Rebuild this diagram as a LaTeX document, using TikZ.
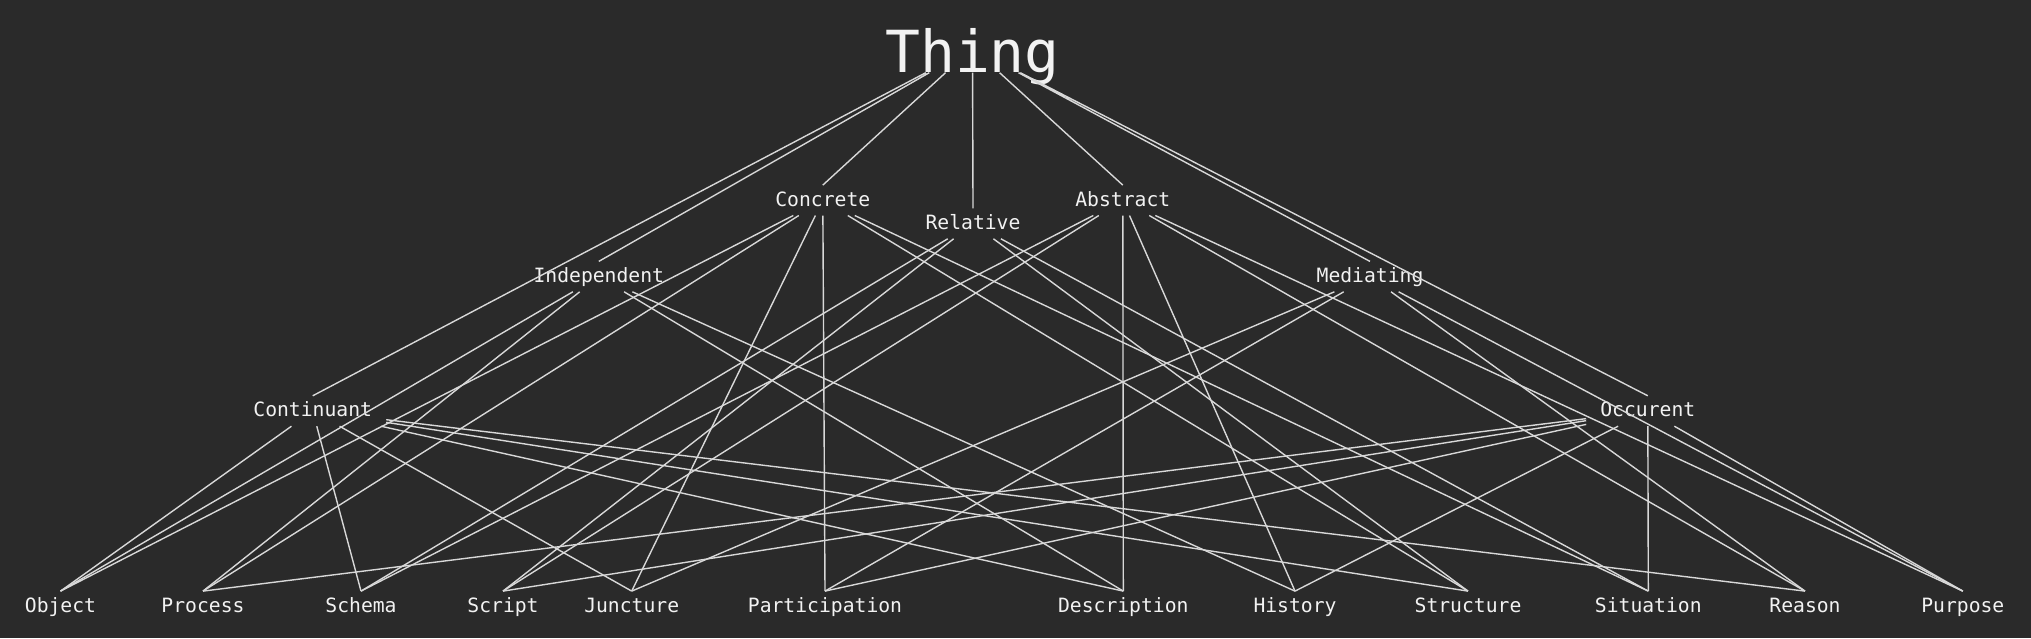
\documentclass[tikz,border=0pt]{standalone}
\usepackage{fontspec}
\setmonofont{DejaVu Sans Mono}
\usepackage{xcolor}
\usepackage{tikz}
\definecolor{canvas}{HTML}{2A2A2A}
\definecolor{inkwhite}{HTML}{F2F2F2}
\definecolor{wire}{HTML}{D8D8D8}
\tikzset{
	catbox/.style={anchor=base, text=inkwhite, inner xsep=14pt, inner ysep=4pt,
		text height=16.7pt, text depth=5.3pt,
		font=\ttfamily\fontsize{19.7pt}{24pt}\selectfont},
	topbox/.style={anchor=base, text=inkwhite, inner sep=0pt,
		text height=49pt, text depth=0pt,
		font=\ttfamily\fontsize{58pt}{70pt}\selectfont},
	isa/.style={draw=wire, line width=1.4pt}
}

\begin{document}
\begin{tikzpicture}[x=1pt, y=-1pt]
	
	%% -- Canvas
	\fill[canvas] (0,0) rectangle (2031,638);
	\useasboundingbox (0,0) rectangle (2031,638);
	
	%% -- Root
	\node[topbox] (thing) at (972.5,72.5) {Thing};
	
	%% -- First split
	\node[catbox] (concrete)  at (822.8,206)   {Concrete};
	\node[catbox] (relative)  at (973,229.3)   {Relative};
	\node[catbox] (abstract)  at (1122.8,206)  {Abstract};
	\node[catbox] (indep)     at (598.8,282.3) {Independent};
	\node[catbox] (mediating) at (1370,282.3)  {Mediating};
	\node[catbox] (contin)    at (312.7,416.7) {Continuant};
	\node[catbox] (occur)     at (1647.8,416.7) {Occurent};
	
	%% -- Leaves (bottom row)
	\node[catbox] (object)    at (60.5,612)   {Object};
	\node[catbox] (process)   at (203,612)    {Process};
	\node[catbox] (schema)    at (361,612)    {Schema};
	\node[catbox] (script)    at (503,612)    {Script};
	\node[catbox] (juncture)  at (631.7,612)  {Juncture};
	\node[catbox] (particip)  at (825,612)    {Participation};
	\node[catbox] (descr)     at (1123.3,612) {Description};
	\node[catbox] (history)   at (1295,612)   {History};
	\node[catbox] (struct)    at (1468,612)   {Structure};
	\node[catbox] (situation) at (1648.3,612) {Situation};
	\node[catbox] (reason)    at (1805,612)   {Reason};
	\node[catbox] (purpose)   at (1962.8,612) {Purpose};
	
	%% -- Thing to the seven categories
	\draw[isa] (thing) -- (contin.north) (thing) -- (indep.north) (thing) -- (concrete.north)
	(thing) -- (relative.north) (thing) -- (abstract.north) (thing) -- (mediating.north)
	(thing) -- (occur.north);
	
	%% -- Concrete / Abstract
	\draw[isa] (concrete) -- (object.north) (concrete) -- (process.north) (concrete) -- (juncture.north)
	(concrete) -- (particip.north) (concrete) -- (struct.north) (concrete) -- (situation.north);
	\draw[isa] (abstract) -- (schema.north) (abstract) -- (script.north) (abstract) -- (descr.north)
	(abstract) -- (history.north) (abstract) -- (reason.north) (abstract) -- (purpose.north);
	
	%% -- Independent / Relative / Mediating
	\draw[isa] (indep) -- (object.north) (indep) -- (process.north)
	(indep) -- (descr.north) (indep) -- (history.north);
	\draw[isa] (relative) -- (schema.north) (relative) -- (script.north)
	(relative) -- (struct.north) (relative) -- (situation.north);
	\draw[isa] (mediating) -- (juncture.north) (mediating) -- (particip.north)
	(mediating) -- (reason.north) (mediating) -- (purpose.north);
	
	%% -- Continuant / Occurent
	\draw[isa] (contin) -- (object.north) (contin) -- (schema.north) (contin) -- (juncture.north)
	(contin) -- (descr.north) (contin) -- (struct.north) (contin) -- (reason.north);
	\draw[isa] (occur) -- (process.north) (occur) -- (script.north) (occur) -- (particip.north)
	(occur) -- (history.north) (occur) -- (situation.north) (occur) -- (purpose.north);
	
\end{tikzpicture}
\end{document}
